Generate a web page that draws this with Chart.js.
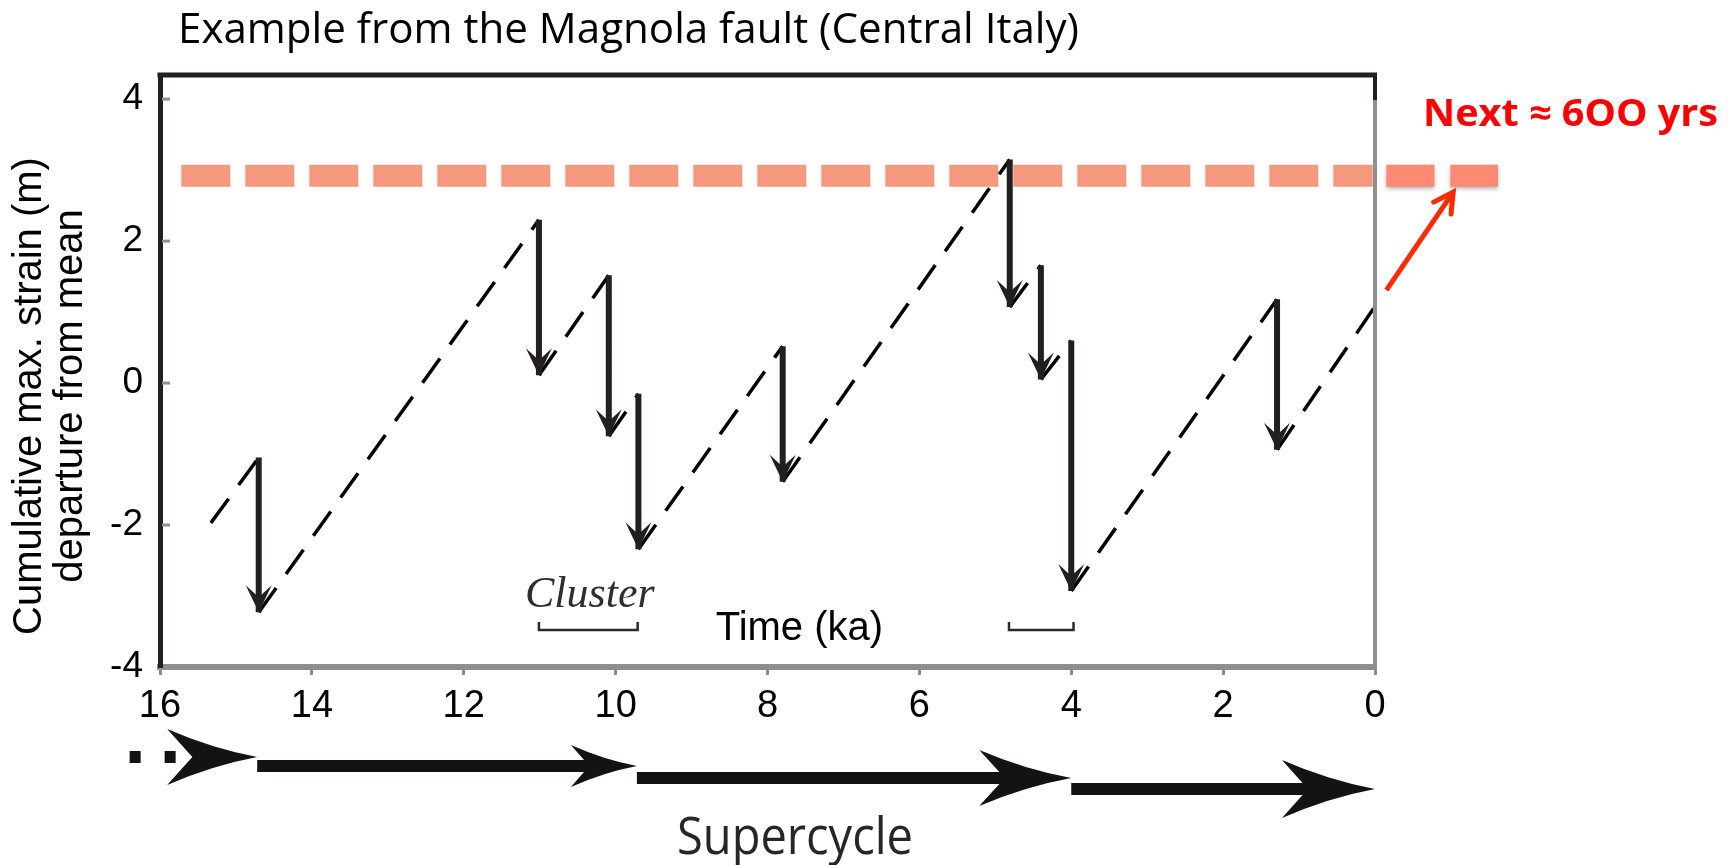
<!DOCTYPE html>
<html>
<head>
<meta charset="utf-8">
<script src="https://cdn.jsdelivr.net/npm/chart.js@4.4.1/dist/chart.umd.min.js"></script>
<style>
  html, body { margin: 0; padding: 0; background: #fff; }
</style>
</head>
<body>
<canvas id="magnolaChart" width="1734" height="865"></canvas>
<script>
// earthquakes: time (ka) and cumulative strain just before / just after (m)
var quakeTimes = [14.70, 11.01, 10.09, 9.70, 7.80, 4.81, 4.40, 4.00, 1.29];
var strainTop  = [-1.05, 2.30, 1.52, -0.15, 0.52, 3.15, 1.66, 0.60, 1.18];
var strainDrop = [-3.23, 0.11, -0.75, -2.34, -1.39, 1.07, 0.05, -2.93, -0.94];
var rampStart  = [15.33, -1.97];
var rampEnd    = [0, 1.08];

// threshold level and its projection into the future
var thresholdLevel = 2.92;
var thresholdSpan  = [15.72, 0.03];
var forecastSpan   = [-0.15, -1.62];
var forecastArrowX = [-0.15, -1.03];
var forecastArrowY = [1.31, 2.69];

var clusterSpans     = [[11.01, 9.71], [4.82, 3.97]];
var supercycleBreaks = [16.4, 14.72, 9.72, 4.0, 0];

var xTicks = [16, 14, 12, 10, 8, 6, 4, 2, 0];
var yTicks = [-4, -2, 0, 2, 4];

var rampPoints = [{ x: rampStart[0], y: rampStart[1] }, { x: quakeTimes[0], y: strainTop[0] }];
var shaftPoints = [];
for (var i = 0; i < quakeTimes.length; i++) {
    shaftPoints.push({ x: quakeTimes[i], y: strainTop[i] }, { x: quakeTimes[i], y: strainDrop[i] }, { x: quakeTimes[i], y: null });
    rampPoints.push({ x: quakeTimes[i], y: null }, { x: quakeTimes[i], y: strainDrop[i] });
    if (i + 1 < quakeTimes.length) {
        rampPoints.push({ x: quakeTimes[i + 1], y: strainTop[i + 1] });
    } else {
        rampPoints.push({ x: rampEnd[0], y: rampEnd[1] });
    }
}

var SANS = '"Liberation Sans", Arial, sans-serif';

// draw text squeezed/stretched to a given width (the original uses Calibri)
function fitText(ctx, text, x, y, width, font, color) {
    ctx.save();
    ctx.font = font;
    ctx.fillStyle = color;
    ctx.textAlign = 'left';
    ctx.textBaseline = 'alphabetic';
    var w = ctx.measureText(text).width;
    ctx.translate(x, y);
    ctx.scale(width / w, 1);
    ctx.fillText(text, 0, 0);
    ctx.restore();
}

function downHead(ctx, x, y) {
    ctx.beginPath();
    ctx.moveTo(x, y);
    ctx.lineTo(x - 13, y - 27);
    ctx.lineTo(x, y - 15);
    ctx.lineTo(x + 13, y - 27);
    ctx.closePath();
    ctx.fill();
}

function bigHead(ctx, tip, cy, L, H) {
    ctx.beginPath();
    ctx.moveTo(tip, cy);
    ctx.quadraticCurveTo(tip - 0.5 * L, cy - 0.3 * H, tip - L, cy - H);
    ctx.quadraticCurveTo(tip - 0.82 * L, cy - 0.35 * H, tip - 0.72 * L, cy);
    ctx.quadraticCurveTo(tip - 0.82 * L, cy + 0.35 * H, tip - L, cy + H);
    ctx.quadraticCurveTo(tip - 0.5 * L, cy + 0.3 * H, tip, cy);
    ctx.closePath();
    ctx.fill();
}

var shadowPlugin = {
    id: 'shadow',
    beforeDatasetDraw: function (chart, args) {
        if (args.index === 4) {
            chart.ctx.save();
            chart.ctx.shadowColor = 'rgba(0,0,0,0.3)';
            chart.ctx.shadowBlur = 4;
            chart.ctx.shadowOffsetY = 2;
        }
    },
    afterDatasetDraw: function (chart, args) {
        if (args.index === 4) chart.ctx.restore();
    }
};

var decorPlugin = {
    id: 'decor',
    beforeDraw: function (chart) {
        var ctx = chart.ctx;
        ctx.save();
        ctx.fillStyle = '#fff';
        ctx.fillRect(0, 0, chart.width, chart.height);
        ctx.restore();
    },
    afterDraw: function (chart) {
        var ctx = chart.ctx, xs = chart.scales.x, ys = chart.scales.y, a = chart.chartArea;
        ctx.save();

        // frame: top and right side
        ctx.strokeStyle = '#8e8e93';
        ctx.lineWidth = 4;
        ctx.beginPath(); ctx.moveTo(a.right, a.top); ctx.lineTo(a.right, a.bottom); ctx.stroke();
        ctx.strokeStyle = '#231f20';
        ctx.beginPath(); ctx.moveTo(a.right, a.top); ctx.lineTo(a.right, a.top + 25); ctx.stroke();
        ctx.lineWidth = 5;
        ctx.beginPath(); ctx.moveTo(a.left - 2.5, a.top); ctx.lineTo(a.right + 2, a.top); ctx.stroke();

        // y tick marks drawn inside the frame
        ctx.strokeStyle = '#8e8e93';
        ctx.lineWidth = 3;
        yTicks.forEach(function (v) {
            var py = ys.getPixelForValue(v);
            if (v === -4) return;
            ctx.beginPath(); ctx.moveTo(a.left + 2, py); ctx.lineTo(a.left + 10, py); ctx.stroke();
        });

        // earthquake arrow heads
        ctx.fillStyle = '#231f20';
        quakeTimes.forEach(function (t, k) {
            downHead(ctx, xs.getPixelForValue(t), ys.getPixelForValue(strainDrop[k]));
        });

        // forecast arrow head
        var fx0 = xs.getPixelForValue(forecastArrowX[0]), fy0 = ys.getPixelForValue(forecastArrowY[0]);
        var fx1 = xs.getPixelForValue(forecastArrowX[1]), fy1 = ys.getPixelForValue(forecastArrowY[1]);
        var ang = Math.atan2(fy1 - fy0, fx1 - fx0);
        ctx.strokeStyle = '#ff2a00';
        ctx.lineWidth = 5;
        ctx.lineCap = 'round';
        ctx.beginPath();
        ctx.moveTo(fx1 - 22 * Math.cos(ang - 0.5), fy1 - 22 * Math.sin(ang - 0.5));
        ctx.lineTo(fx1, fy1);
        ctx.lineTo(fx1 - 22 * Math.cos(ang + 0.5), fy1 - 22 * Math.sin(ang + 0.5));
        ctx.stroke();
        ctx.lineCap = 'butt';

        // cluster brackets
        ctx.strokeStyle = '#2b2b2b';
        ctx.lineWidth = 2.5;
        clusterSpans.forEach(function (s) {
            var bx0 = xs.getPixelForValue(s[0]), bx1 = xs.getPixelForValue(s[1]), by = ys.getPixelForValue(-3.48);
            ctx.beginPath();
            ctx.moveTo(bx0, by - 8); ctx.lineTo(bx0, by); ctx.lineTo(bx1, by); ctx.lineTo(bx1, by - 8);
            ctx.stroke();
        });

        ctx.textAlign = 'center';
        ctx.textBaseline = 'alphabetic';
        ctx.fillStyle = '#2e2e2e';
        ctx.font = 'italic 44px "Liberation Serif", "Times New Roman", serif';
        ctx.fillText('Cluster', xs.getPixelForValue(10.34), ys.getPixelForValue(-3.15));
        ctx.fillStyle = '#000';
        ctx.font = '40px ' + SANS;
        ctx.fillText('Time (ka)', xs.getPixelForValue(7.58), ys.getPixelForValue(-3.62));

        // y axis title, two lines
        ctx.save();
        ctx.translate(0, 396);
        ctx.rotate(-Math.PI / 2);
        ctx.textBaseline = 'middle';
        ctx.font = '40px ' + SANS;
        ctx.fillText('Cumulative max. strain (m)', 0, 30);
        ctx.fillText('departure from mean', 0, 71);
        ctx.restore();

        // supercycle arrows under the time axis
        var rowY = [90, 99, 111, 122];
        var heads = [[90, 28], [66, 21], [92, 28], [93, 29]];
        ctx.fillStyle = '#141213';
        ctx.strokeStyle = '#141213';
        ctx.lineWidth = 12;
        for (var k = 0; k < supercycleBreaks.length - 1; k++) {
            var sx0 = xs.getPixelForValue(supercycleBreaks[k]);
            var sx1 = xs.getPixelForValue(supercycleBreaks[k + 1]);
            var cy = a.bottom + rowY[k];
            ctx.setLineDash(k === 0 ? [11, 24] : []);
            ctx.beginPath(); ctx.moveTo(sx0, cy); ctx.lineTo(sx1 - heads[k][0] * 0.7, cy); ctx.stroke();
            ctx.setLineDash([]);
            bigHead(ctx, sx1, cy, heads[k][0], heads[k][1]);
        }
        ctx.restore();

        fitText(ctx, 'Example from the Magnola fault (Central Italy)', 178, 43, 901, '42px "Open Sans"', '#000');
        fitText(ctx, 'Next \u2248 6OO yrs', 1423, 126, 295, 'bold 37px "Open Sans"', '#ff0000');
        fitText(ctx, 'Supercycle', 677, 854, 236, '51px "Open Sans"', '#262626');
    }
};

var ctx = document.getElementById('magnolaChart').getContext('2d');
var magnolaChart = new Chart(ctx, {
    type: 'scatter',
    data: {
        datasets: [{
            label: 'Earthquakes',
            data: shaftPoints,
            showLine: true,
            borderColor: '#231f20',
            borderWidth: 6,
            pointRadius: 0
        }, {
            label: 'Strain accumulation',
            data: rampPoints,
            showLine: true,
            borderColor: '#000',
            borderWidth: 3.5,
            borderDash: [30, 17],
            pointRadius: 0
        }, {
            label: 'Forecast arrow',
            data: [{ x: forecastArrowX[0], y: forecastArrowY[0] }, { x: forecastArrowX[1], y: forecastArrowY[1] }],
            showLine: true,
            borderColor: '#ff2a00',
            borderWidth: 5,
            pointRadius: 0,
            clip: false
        }, {
            label: 'Threshold',
            data: [{ x: thresholdSpan[0], y: thresholdLevel }, { x: thresholdSpan[1], y: thresholdLevel }],
            showLine: true,
            borderColor: '#f5997c',
            borderWidth: 22,
            borderDash: [49, 15],
            pointRadius: 0
        }, {
            label: 'Threshold (future)',
            data: [{ x: forecastSpan[0], y: thresholdLevel }, { x: forecastSpan[1], y: thresholdLevel }],
            showLine: true,
            borderColor: '#ff8a73',
            borderWidth: 22,
            borderDash: [48, 16],
            pointRadius: 0,
            clip: false
        }]
    },
    options: {
        responsive: false,
        animation: false,
        devicePixelRatio: 1,
        layout: { padding: { left: 0, right: 359, top: 75, bottom: 128 } },
        plugins: { legend: { display: false }, title: { display: false }, tooltip: { enabled: false } },
        scales: {
            x: {
                type: 'linear',
                reverse: true,
                min: 0,
                max: 16,
                afterBuildTicks: function (scale) {
                    scale.ticks = xTicks.map(function (v) { return { value: v }; });
                },
                afterFit: function (scale) { scale.height = 70; },
                grid: { drawOnChartArea: false, drawTicks: true, tickLength: 8, color: '#8e8e93', lineWidth: 3 },
                border: { color: '#8e8e93', width: 6 },
                ticks: { font: { family: SANS, size: 38 }, color: '#000', padding: 9, autoSkip: false, maxRotation: 0 }
            },
            y: {
                type: 'linear',
                min: -4,
                max: 4.34,
                afterBuildTicks: function (scale) {
                    scale.ticks = yTicks.map(function (v) { return { value: v }; });
                },
                afterFit: function (scale) { scale.width = 160; },
                grid: { drawOnChartArea: false, drawTicks: false },
                border: { color: '#231f20', width: 5 },
                ticks: { font: { family: SANS, size: 37 }, color: '#000', padding: 17 }
            }
        }
    },
    plugins: [shadowPlugin, decorPlugin]
});
</script>
</body>
</html>
